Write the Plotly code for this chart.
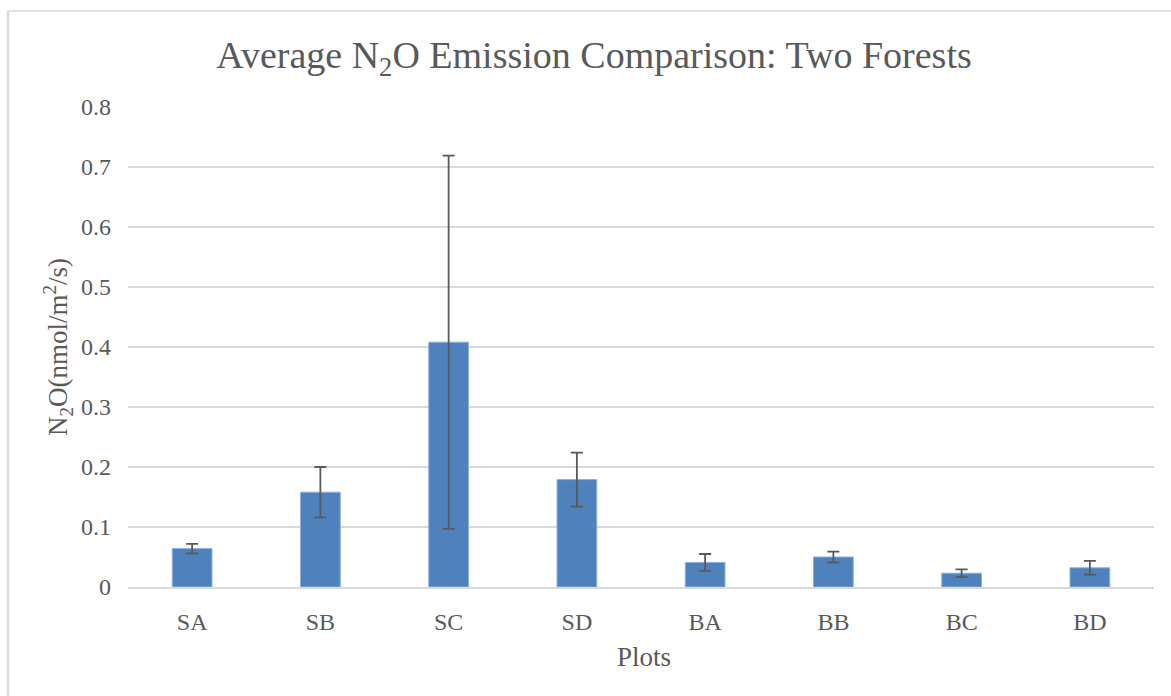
import plotly.graph_objects as go

categories = ["SA", "SB", "SC", "SD", "BA", "BB", "BC", "BD"]
means = [0.064, 0.158, 0.408, 0.179, 0.041, 0.050, 0.023, 0.032]
errors = [0.008, 0.042, 0.311, 0.045, 0.014, 0.009, 0.0065, 0.0115]
y_ticks = [0, 0.1, 0.2, 0.3, 0.4, 0.5, 0.6, 0.7, 0.8]
y_tick_labels = ["0", "0.1", "0.2", "0.3", "0.4", "0.5", "0.6", "0.7", "0.8"]

FONT = "Liberation Serif"
TXT = "#595959"

fig = go.Figure()
fig.add_trace(go.Bar(
    x=categories, y=means,
    marker=dict(color="#4F81BD", line=dict(color="#8DB0DD", width=1)),
    error_y=dict(type="data", array=errors, visible=True, color="#595959", thickness=1.8, width=6),
    width=0.31,
))

W, H = 1171, 696
L, R, T, B = 128, 17, 107, 109

fig.update_layout(
    width=W, height=H,
    margin=dict(l=L, r=R, t=T, b=B, autoexpand=False),
    paper_bgcolor="white", plot_bgcolor="white",
    showlegend=False,
    font=dict(family=FONT, color=TXT, size=23),
    title=dict(text="Average N<sub>2</sub>O Emission Comparison: Two Forests",
               x=594 / W, xanchor="center", y=1 - 55 / H, yanchor="middle",
               font=dict(family=FONT, size=38, color=TXT)),
    xaxis=dict(showgrid=False, showline=True, linecolor="#D9D9D9", linewidth=2,
               ticks="", tickfont=dict(size=24, color=TXT), ticklabelstandoff=12),
    yaxis=dict(range=[0, 0.8], tickvals=y_ticks, ticktext=y_tick_labels,
               showgrid=True, gridcolor="#D9D9D9", gridwidth=1.5, zeroline=False,
               showline=False, ticks="", tickfont=dict(size=24, color=TXT),
               ticklabelstandoff=16),
    annotations=[
        dict(text="N<sub>2</sub>O(nmol/m<sup>2</sup>/s)", textangle=-90,
             xref="paper", yref="paper", x=(58 - L) / (W - L - R), y=0.5,
             xanchor="center", yanchor="middle", showarrow=False,
             font=dict(family=FONT, size=27, color=TXT)),
        dict(text="Plots", xref="paper", yref="paper",
             x=(644 - L) / (W - L - R), y=-(657 - (H - B)) / (H - T - B),
             xanchor="center", yanchor="middle", showarrow=False,
             font=dict(family=FONT, size=27, color=TXT)),
    ],
    shapes=[
        dict(type="line", xref="paper", yref="paper",
             x0=(8 - L) / (W - L - R), x1=(W - L) / (W - L - R) + 0.01,
             y0=1 + (T - 11) / (H - T - B), y1=1 + (T - 11) / (H - T - B),
             line=dict(color="#D9D9D9", width=1.5)),
        dict(type="line", xref="paper", yref="paper",
             x0=(8 - L) / (W - L - R), x1=(8 - L) / (W - L - R),
             y0=1 + (T - 11) / (H - T - B), y1=-(B + 5) / (H - T - B),
             line=dict(color="#D9D9D9", width=2.5)),
    ],
)

fig.write_html("out.html", config={"displayModeBar": False},
               post_script="document.body.style.margin='0';")
